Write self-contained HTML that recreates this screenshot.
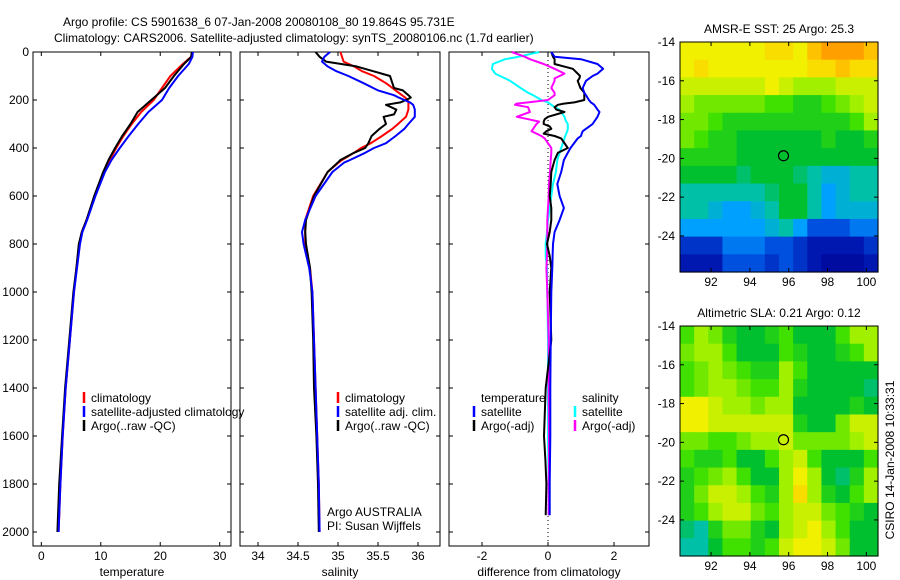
<!DOCTYPE html>
<html><head><meta charset="utf-8">
<style>
html,body{margin:0;padding:0;background:#fff;}
svg{display:block;font-family:"Liberation Sans",sans-serif;}
text{font-size:12px;fill:#000;}
</style></head>
<body>
<svg id="chart" width="900" height="580" viewBox="0 0 900 580">
<text x="63" y="26">Argo profile: CS 5901638_6 07-Jan-2008 20080108_80 19.864S 95.731E</text>
<text x="54" y="42">Climatology: CARS2006. Satellite-adjusted climatology: synTS_20080106.nc (1.7d earlier)</text>
<text transform="translate(894,460) rotate(-90)" text-anchor="middle">CSIRO 14-Jan-2008 10:33:31</text>
</svg>
<script>
// ---------- profile data ----------
const depthT = [0,20,50,100,150,200,250,300,350,400,450,500,600,700,750,800,900,1000,1200,1400,1600,1800,2000];
const tempClim = [25.3,25.2,23.8,21.7,20.3,18.9,16.8,15.2,13.8,12.6,11.5,10.5,9.0,7.6,6.8,6.4,5.9,5.5,4.8,4.1,3.6,3.2,2.9];
const tempSat  = [25.5,25.4,24.8,23.0,21.5,20.3,18.0,16.3,14.7,13.2,11.8,10.7,9.1,7.7,6.9,6.5,6.0,5.5,4.8,4.1,3.6,3.2,2.9];
const tempArgo = [25.3,25.2,24.0,22.3,20.8,18.5,16.2,15.0,13.6,12.4,11.3,10.4,8.9,7.6,6.8,6.3,5.9,5.4,4.7,4.0,3.5,3.0,2.7];

const depthS = [0,20,40,60,80,100,130,150,160,180,190,200,210,220,240,260,270,300,320,350,380,400,420,450,460,500,600,700,750,800,900,1000,1200,1400,1600,1800,2000];
const salClim = [35.03,35.05,35.07,35.2,35.3,35.45,35.6,35.68,35.72,35.8,35.84,35.87,35.88,35.88,35.88,35.86,35.85,35.75,35.68,35.55,35.41,35.29,35.2,35.05,35.01,34.87,34.69,34.59,34.59,34.59,34.65,34.68,34.70,34.72,34.74,34.76,34.77];
const salSat  = [34.9,34.83,34.8,34.87,34.98,35.13,35.32,35.44,35.5,35.7,35.76,35.83,35.9,35.94,35.96,35.96,35.96,35.88,35.83,35.72,35.6,35.45,35.34,35.15,35.08,34.93,34.72,34.59,34.55,34.57,34.64,34.68,34.70,34.72,34.74,34.76,34.77];
const salArgo = [34.72,34.77,34.85,35.23,35.44,35.65,35.68,35.7,35.81,35.88,35.91,35.85,35.78,35.6,35.73,35.7,35.57,35.6,35.52,35.42,35.38,35.34,35.2,35.03,35.0,34.87,34.7,34.6,34.59,34.6,34.65,34.67,34.69,34.70,34.73,34.75,34.76];

const depthD = [0,20,30,50,70,90,100,110,120,150,170,180,200,210,215,220,230,240,250,270,280,290,300,310,320,330,340,350,360,400,420,450,500,550,600,650,700,750,800,850,900,1000,1200,1400,1600,1700,1800,1930];
const dTempSat  = [0.1,0.2,1.0,1.5,1.67,1.5,1.35,1.25,1.15,1.05,1.1,1.15,1.24,1.3,1.35,1.4,1.45,1.5,1.56,1.5,1.45,1.4,1.35,1.25,1.15,1.05,1.02,1.0,0.9,0.68,0.6,0.48,0.4,0.28,0.35,0.48,0.35,0.2,0.15,0.14,0.13,0.1,0.08,0.07,0.07,0.06,0.05,0.05];
const dTempArgo = [0.1,0.15,0.2,0.2,0.75,0.9,0.97,0.95,0.9,0.98,1.1,1.1,1.1,0.8,0.48,0.3,0.2,0.25,0.5,0.0,-0.1,-0.13,-0.13,0.05,0.1,-0.05,-0.13,0.2,0.4,0.6,0.3,0.2,0.1,0.08,0.05,0.1,0.1,0.05,-0.03,0.05,0.1,0.05,0.1,-0.07,-0.12,-0.08,-0.05,-0.07];
const dSalSat   = [-0.27,-0.9,-1.3,-1.67,-1.7,-1.6,-1.45,-1.3,-1.15,-0.83,-0.6,-0.45,-0.2,0.0,0.05,0.1,0.2,0.35,0.4,0.5,0.52,0.55,0.6,0.6,0.6,0.58,0.55,0.52,0.5,0.4,0.35,0.28,0.24,0.15,0.1,0.05,0.0,-0.03,-0.07,-0.07,-0.03,-0.02,0.0,0.0,0.0,0.01,0.02,0.02];
const dSalArgo  = [-1.1,-0.7,-0.55,-0.13,0.2,0.5,0.35,0.2,0.2,0.1,0.2,0.2,0.0,-0.6,-0.95,-1.0,-0.6,-0.58,-0.55,-0.95,-0.6,-0.27,-0.35,-0.4,-0.45,-0.5,-0.35,-0.2,-0.1,0.1,0.1,0.08,0.06,0.03,0.02,0.0,-0.02,-0.02,-0.02,-0.03,-0.05,-0.02,0.02,0.02,0.03,0.03,0.02,0.02];

// ---------- map data (colour levels 0-10) ----------
const sstGrid = [
[8,8,8,8,8,8,8.5,8.5,8,9,9.5,9.5,9.5,9],
[8,8.5,8,8,8,8,8,8,8,8.5,8.5,9,8.5,8.5],
[7.5,7.5,7.5,7.5,7.5,7.5,8,7.5,7,7,7,7.5,7.5,7.5],
[7,6.5,6.5,6.5,6.5,6.5,6,6,5.5,5.5,6,6.5,7,7.5],
[6.5,6.5,6,5.5,5.5,5.5,5.5,5.5,5.5,5.5,5.5,5.5,6,7],
[6.5,6,5.5,5.5,5,5,5,5,5,5,5.5,5,5,5.5],
[5.5,5.5,5.5,5.5,5,5,5,5,5,5,5,5,5,5],
[5,5,5,5,4.5,5,5,5,4.5,4,3.5,3.5,4,4],
[4,4,4,4,4,4,4.5,5,5,4,3,3.5,4,4],
[4,4,3.5,3,3,3.5,4,5,5,4,3,3.5,3.5,3.5],
[3,3,3,3,3,3,3.5,4,3,2,2,2,2.5,2.5],
[1.5,1.5,1.5,2.5,2.5,2.5,2,2,1.5,1,1,1,1,1.5],
[1,1,1,2,2,2,1.5,2,1.5,1,0.5,0.5,0.5,1]];
const slaGrid = [
[6,7,6.5,5.5,5,5,5.5,6,5,5,5,6,7,7],
[6.5,7,7,6,5,5,5,6,5.5,5,5,5.5,6,7],
[6,6.5,7,6.5,6,5.5,5.5,7,6,5,5,5,5,5],
[6,6.5,7,7,6.5,6,6,7,5.5,5,5,5,5,4.5],
[8,8,7.5,7,7,6.5,7,7,5,5,5,5,5.5,5],
[8,8,7.5,7.5,7.5,7.5,7.5,7.5,5.5,5,5,6.5,7.5,7.5],
[6.5,6.5,6,6,6.5,7,7,7.5,6.5,6.5,6.5,6.5,7,7.5],
[6,5.5,5.5,6,5,5,6,7,7.5,6,5,5,5,6],
[5.5,6,6.5,7,6,5,5,7,8,7,5,4.5,5.5,7],
[5.5,6.5,7.5,7.5,7,6,5.5,7,8.5,7,5.5,5,6,7],
[5.5,6,7,7.5,7.5,6.5,6,7,7.5,7.5,6.5,6,5.5,5],
[4.5,4,5.5,6.5,6.5,5.5,5,7,7.5,8,7,6,5,5],
[4,4,5,6,6,5.5,6,7.5,8,8,7.5,6.5,5,5]];
const argoLon = 95.731, argoLat = -19.864;
const depthTicks = [0,200,400,600,800,1000,1200,1400,1600,1800,2000];
const tempTicks = [0,10,20,30];
const salTicks = [34,34.5,35,35.5,36];
const diffTicks = [-2,0,2];
const latTicks = [-14,-16,-18,-20,-22,-24];
const lonTicks = [92,94,96,98,100];

const NS = 'http://www.w3.org/2000/svg';
const svg = document.getElementById('chart');
function mk(tag, attrs, parent){
  const e = document.createElementNS(NS, tag);
  for (const k in attrs) e.setAttribute(k, attrs[k]);
  (parent||svg).appendChild(e);
  return e;
}
const yTop = 52, yBot = 546, dMax = (546-52)/0.24;
function yD(d){ return yTop + (d/dMax)*(yBot-yTop); }

function panel(name, x0, x1, vmin, vmax, ticks, label, showY){
  const g = mk('g', {});
  
  
  const xs = v => x0 + (v-vmin)/(vmax-vmin)*(x1-x0);
  const box = mk('rect', {x:x0, y:yTop, width:x1-x0, height:yBot-yTop, fill:'none', stroke:'#000', 'stroke-width':1}, g);
  
  
  depthTicks.forEach(d=>{
    const y = yD(d);
    mk('line',{x1:x0,x2:x0+4,y1:y,y2:y,stroke:'#000'},g);
    mk('line',{x1:x1-4,x2:x1,y1:y,y2:y,stroke:'#000'},g);
    if (showY){
      const t = mk('text',{x:x0-4,y:y+4,'text-anchor':'end'},g);
      t.textContent = d;
      
      
    }
  });
  ticks.forEach(v=>{
    const x = xs(v);
    mk('line',{x1:x,x2:x,y1:yBot,y2:yBot-4,stroke:'#000'},g);
    mk('line',{x1:x,x2:x,y1:yTop,y2:yTop+4,stroke:'#000'},g);
    const t = mk('text',{x:x,y:560,'text-anchor':'middle'},g);
    t.textContent = v;
    
    
  });
  const l = mk('text',{x:(x0+x1)/2,y:576,'text-anchor':'middle'},g);
  l.textContent = label;
  
  
  return {g, xs};
}
function series(p, depths, vals, color, name, w){
  const pts = depths.map((d,i)=> p.xs(vals[i]).toFixed(1)+','+yD(d).toFixed(1)).join(' ');
  const e = mk('polyline',{points:pts,fill:'none',stroke:color,'stroke-width':w||2,'stroke-linejoin':'round'},p.g);
  
  
}
function legend(g, x, y, color, label, name){
  if (color){
    const m = mk('line',{x1:x,x2:x,y1:y-10,y2:y+1,stroke:color,'stroke-width':2.5},g);
    
    
  }
  const t = mk('text',{x:x+7,y:y},g);
  t.textContent = label;
  
  
}

// Panel 1: temperature
const p1 = panel('temperature-panel', 33, 231, -1.4, 31.9, tempTicks, 'temperature', true);
series(p1, depthT, tempClim, '#f00', 'temp-climatology-line');
series(p1, depthT, tempArgo, '#000', 'temp-argo-line');
series(p1, depthT, tempSat, '#00f', 'temp-satellite-line');
legend(p1.g, 84, 402, '#f00', 'climatology', 'legend-climatology');
legend(p1.g, 84, 416, '#00f', 'satellite-adjusted climatology', 'legend-satellite-adjusted');
legend(p1.g, 84, 430, '#000', 'Argo(..raw -QC)', 'legend-argo');

// Panel 2: salinity
const p2 = panel('salinity-panel', 240, 440, 33.775, 36.275, salTicks, 'salinity', false);
series(p2, depthS, salClim, '#f00', 'sal-climatology-line');
series(p2, depthS, salArgo, '#000', 'sal-argo-line');
series(p2, depthS, salSat, '#00f', 'sal-satellite-line');
legend(p2.g, 338, 402, '#f00', 'climatology', 'legend-sal-climatology');
legend(p2.g, 338, 416, '#00f', 'satellite adj. clim.', 'legend-sal-satellite');
legend(p2.g, 338, 430, '#000', 'Argo(..raw -QC)', 'legend-sal-argo');
legend(p2.g, 320, 516, null, 'Argo AUSTRALIA', 'argo-australia-note');
legend(p2.g, 320, 530, null, 'PI: Susan Wijffels', 'pi-note');

// Panel 3: differences
const p3 = panel('difference-panel', 449, 649, -3, 3.06, diffTicks, 'difference from climatology', false);
const zl = mk('line',{x1:p3.xs(0),x2:p3.xs(0),y1:yTop,y2:yBot,stroke:'#000','stroke-dasharray':'1,3'},p3.g);


series(p3, depthD, dSalSat, '#0ff', 'diff-sal-satellite-line');
series(p3, depthD, dSalArgo, '#f0f', 'diff-sal-argo-line');
series(p3, depthD, dTempArgo, '#000', 'diff-temp-argo-line');
series(p3, depthD, dTempSat, '#00f', 'diff-temp-satellite-line');
legend(p3.g, 474, 402, null, 'temperature', 'legend-temperature-header');
legend(p3.g, 474, 416, '#00f', 'satellite', 'legend-temp-satellite');
legend(p3.g, 474, 430, '#000', 'Argo(-adj)', 'legend-temp-argo');
legend(p3.g, 575, 402, null, 'salinity', 'legend-salinity-header');
legend(p3.g, 575, 416, '#0ff', 'satellite', 'legend-sal-satellite-diff');
legend(p3.g, 575, 430, '#f0f', 'Argo(-adj)', 'legend-sal-argo-diff');

// ---------- maps ----------
const cmapStops = [[0,[0,0,144]],[1,[0,24,176]],[2,[0,80,224]],[3,[0,160,255]],[4,[0,192,168]],[5,[0,192,48]],[6,[64,224,0]],[7,[160,240,0]],[8,[240,240,0]],[8.8,[255,208,0]],[9.5,[255,160,0]],[10,[255,128,0]]];
function cmap(v){
  for (let i=1;i<cmapStops.length;i++){
    if (v<=cmapStops[i][0]){
      const [a,ca]=cmapStops[i-1],[b,cb]=cmapStops[i];
      const t=(v-a)/(b-a);
      return 'rgb('+ca.map((c,k)=>Math.round(c+(cb[k]-c)*t)).join(',')+')';
    }
  }
  return 'rgb(255,128,0)';
}
function mapPanel(name, top, bottom, grid, title){
  const g = mk('g',{});
  
  
  const x0=680,x1=878, lon0=90.4, lon1=100.6, lat0=-14, lat1=-25.86;
  const xs = lon => x0+(lon-lon0)/(lon1-lon0)*(x1-x0);
  const ys = lat => top+(lat-lat0)/(lat1-lat0)*(bottom-top);
  const nr=grid.length, nc=grid[0].length;
  const cw=(x1-x0)/nc, ch=(bottom-top)/nr;
  grid.forEach((row,r)=>row.forEach((v,c)=>{
    const cell = mk('rect',{x:(x0+c*cw).toFixed(2),y:(top+r*ch).toFixed(2),width:(cw+0.6).toFixed(2),height:(ch+0.6).toFixed(2),fill:cmap(v)},g);
    
    
  }));
  mk('rect',{x:x0,y:top,width:x1-x0,height:bottom-top,fill:'none',stroke:'#000'},g);
  latTicks.forEach(l=>{
    const y=ys(l);
    mk('line',{x1:x0,x2:x0+4,y1:y,y2:y,stroke:'#000'},g);
    mk('line',{x1:x1-4,x2:x1,y1:y,y2:y,stroke:'#000'},g);
    const t=mk('text',{x:x0-5,y:y+4,'text-anchor':'end'},g);
    t.textContent=l;
    
    
  });
  lonTicks.forEach(l=>{
    const x=xs(l);
    mk('line',{x1:x,x2:x,y1:bottom,y2:bottom-4,stroke:'#000'},g);
    mk('line',{x1:x,x2:x,y1:top,y2:top+4,stroke:'#000'},g);
    const t=mk('text',{x:x,y:bottom+14,'text-anchor':'middle'},g);
    t.textContent=l;
    
    
  });
  const c=mk('circle',{cx:xs(argoLon),cy:ys(argoLat),r:5,fill:'none',stroke:'#000','stroke-width':1.2},g);
  
  
  const t=mk('text',{x:(x0+x1)/2,y:top-9,'text-anchor':'middle'},g);
  t.textContent=title;
  
  
}
mapPanel('sst-map', 42, 272, sstGrid, 'AMSR-E SST: 25 Argo: 25.3');
mapPanel('sla-map', 326, 556, slaGrid, 'Altimetric SLA: 0.21 Argo: 0.12');
</script>
</body></html>
